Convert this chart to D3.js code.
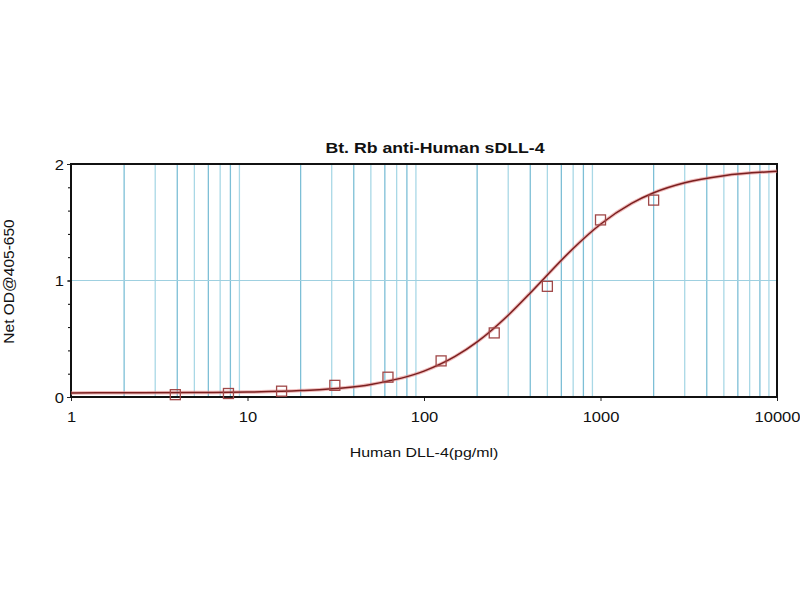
<!DOCTYPE html>
<html>
<head>
<meta charset="utf-8">
<script src="https://cdn.jsdelivr.net/npm/d3@7"></script>
<style>
  body { margin: 0; background: #fff; }
  text { font-family: "Liberation Sans", Arial, sans-serif; fill: #111; }
</style>
</head>
<body>
<div id="chart"></div>
<script>
// measured points (pg/ml vs net OD)
const conc = [3.9, 7.8, 15.6, 31.25, 62.5, 125, 250, 500, 1000, 2000];
const od = [0.02, 0.03, 0.05, 0.10, 0.17, 0.31, 0.55, 0.95, 1.52, 1.69];

// fitted curve
const curveX = [1, 2, 5, 10, 20, 50, 100, 150, 200, 300, 400, 500, 700, 1000, 1500, 2000, 3000, 5000, 10000];
const curveY = [0.035, 0.036, 0.038, 0.042, 0.055, 0.108, 0.222, 0.348, 0.473, 0.702, 0.893, 1.048, 1.275, 1.483, 1.662, 1.753, 1.839, 1.900, 1.937];

const xTickLabels = [1, 10, 100, 1000, 10000];
const yTickLabels = [0, 1, 2];

// the picture is a bit wider than tall, so text is stretched sideways
const stretch = "scale(1.18,1)";

var margin = {top: 164, right: 23, bottom: 203, left: 71},
    width = 800 - margin.left - margin.right,
    height = 600 - margin.top - margin.bottom;

var svg = d3.select("#chart")
  .append("svg")
    .attr("width", 800)
    .attr("height", 600)
  .append("g")
    .attr("transform", "translate(" + margin.left + "," + margin.top + ")");

var x = d3.scaleLog().domain([1, 10000]).range([0, width]);
var y = d3.scaleLinear().domain([0, 2]).range([height, 0]);

// vertical grid at every minor log step
var minor = [];
for (var dec = 1; dec < 10000; dec *= 10) {
  for (var k = 2; k <= 9; k++) minor.push(dec * k);
}
svg.selectAll(".vgrid")
  .data(minor)
  .enter().append("line")
    .attr("x1", d => x(d)).attr("x2", d => x(d))
    .attr("y1", 0).attr("y2", height)
    .attr("stroke", (d, i) => (i % 2 == 0 ? "#7dbfd6" : "#a9d8e6"))
    .attr("stroke-width", 1.3);

// horizontal grid at 1
svg.append("line")
  .attr("x1", 0).attr("x2", width)
  .attr("y1", y(1)).attr("y2", y(1))
  .attr("stroke", "#9fd0e0")
  .attr("stroke-width", 1.2);

// axes
var xAxis = svg.append("g")
  .attr("transform", "translate(0," + height + ")")
  .call(d3.axisBottom(x).tickValues(xTickLabels).tickFormat(d3.format("d")).tickSize(4));
var yAxis = svg.append("g")
  .call(d3.axisLeft(y).tickValues(yTickLabels).tickFormat(d3.format("d")).tickSize(4));
svg.append("g")
  .call(d3.axisLeft(y).tickValues(d3.range(0.2, 2, 0.2)).tickFormat("").tickSize(3))
  .select(".domain").remove();

[xAxis, yAxis].forEach(function(a) {
  a.selectAll("text").style("font-size", "14px").attr("fill", "#111").attr("transform", stretch);
  a.selectAll("line").attr("stroke", "#222");
});
xAxis.selectAll("text").attr("dy", "1.3em");
yAxis.selectAll("text").attr("x", -6).attr("dy", "0.36em");

// frame
svg.append("rect")
  .attr("x", 0).attr("y", 0)
  .attr("width", width).attr("height", height)
  .attr("fill", "none")
  .attr("stroke", "#111")
  .attr("stroke-width", 2);

// fitted curve
var line = d3.line()
  .x((d, i) => x(curveX[i]))
  .y(d => y(d))
  .curve(d3.curveMonotoneX);
svg.append("path")
  .datum(curveY)
  .attr("d", line)
  .attr("fill", "none")
  .attr("stroke", "#e58a8a")
  .attr("stroke-width", 3.5)
  .attr("opacity", 0.6);
svg.append("path")
  .datum(curveY)
  .attr("d", line)
  .attr("fill", "none")
  .attr("stroke", "#7a1f1f")
  .attr("stroke-width", 1.5);

// data squares
svg.selectAll(".pt")
  .data(od)
  .enter().append("rect")
    .attr("x", (d, i) => x(conc[i]) - 5)
    .attr("y", d => y(d) - 5)
    .attr("width", 10).attr("height", 10)
    .attr("fill", "none")
    .attr("stroke", "#a04848")
    .attr("stroke-width", 1.3);

// title and labels
svg.append("text")
  .attr("transform", "translate(" + (width / 2 + 11) + "," + (-11) + ")" + stretch)
  .attr("text-anchor", "middle")
  .style("font-size", "15px")
  .style("font-weight", "bold")
  .text("Bt. Rb anti-Human sDLL-4");

svg.append("text")
  .attr("transform", "translate(" + (width / 2) + "," + (height + 60) + ")" + stretch)
  .attr("text-anchor", "middle")
  .style("font-size", "13.5px")
  .text("Human DLL-4(pg/ml)");

svg.append("text")
  .attr("transform", "translate(" + (-57) + "," + (height / 2 + 1) + ")rotate(-90)")
  .attr("text-anchor", "middle")
  .style("font-size", "15.5px")
  .text("Net OD@405-650");
</script>
</body>
</html>
